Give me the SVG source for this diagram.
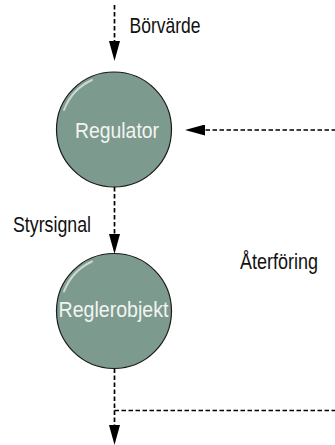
<svg xmlns="http://www.w3.org/2000/svg" width="335" height="445" viewBox="0 0 335 445">
<style>
.lbl{font-family:"Liberation Sans",Arial,sans-serif;font-size:22.5px;fill:#111}
.ntxt{font-family:"Liberation Sans",Arial,sans-serif;font-size:22.5px;fill:#f2f4f2}
.node{fill:#7d9a8e;stroke:#1a1a1a;stroke-width:1.2}
.gloss{fill:none;stroke:#e6eee9;stroke-opacity:0.75;stroke-width:2;stroke-linecap:round}
.conn{fill:none;stroke:#000;stroke-width:1.7;stroke-dasharray:4.5 2.5}
</style>
<defs>
<marker id="arr" markerUnits="userSpaceOnUse" markerWidth="20" markerHeight="11" refX="0" refY="5.5" orient="auto" viewBox="0 0 20 11">
<path d="M0,0 L20,5.5 L0,11 Z" fill="#000"/>
</marker>
</defs>
<rect width="335" height="445" fill="#fff"/>
<g id="connectors">
<path class="conn" d="M114.5,5 V41" marker-end="url(#arr)"/>
<path class="conn" d="M114.5,187 V234" marker-end="url(#arr)"/>
<path class="conn" d="M114.5,368.5 V425" marker-end="url(#arr)"/>
<path class="conn" d="M114.5,410.5 H337 V130 H205" marker-end="url(#arr)"/>
</g>
<g id="regulator">
<circle class="node" cx="114" cy="129.5" r="57.5"/>
<path class="gloss" d="M64,110 A54,54 0 0 1 92,80"/>
<text class="ntxt" x="75" y="137.5" textLength="84" lengthAdjust="spacingAndGlyphs">Regulator</text>
</g>
<g id="reglerobjekt">
<circle class="node" cx="114" cy="311" r="57.5"/>
<path class="gloss" d="M64,291.5 A54,54 0 0 1 92,261.5"/>
<text class="ntxt" x="58.5" y="316.5" textLength="110" lengthAdjust="spacingAndGlyphs">Reglerobjekt</text>
</g>
<g id="labels">
<text class="lbl" x="129.5" y="32.5" textLength="71" lengthAdjust="spacingAndGlyphs">Börvärde</text>
<text class="lbl" x="13" y="231.5" textLength="78" lengthAdjust="spacingAndGlyphs">Styrsignal</text>
<text class="lbl" x="240" y="268.5" textLength="78" lengthAdjust="spacingAndGlyphs">Återföring</text>
</g>
</svg>
